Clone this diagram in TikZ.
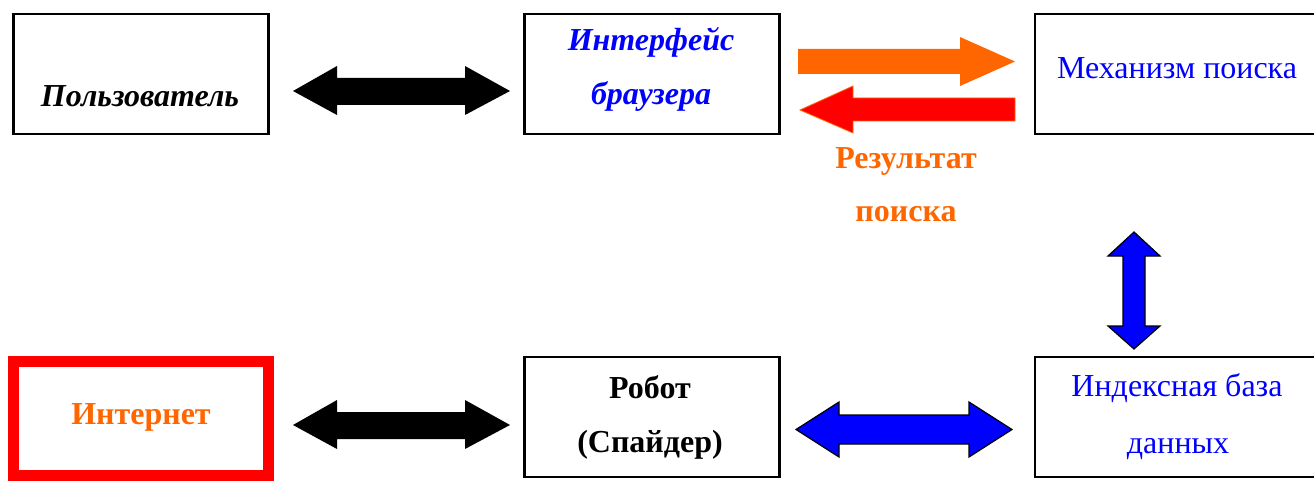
\documentclass[tikz,border=0pt]{standalone}
\usepackage{fontspec}
\setmainfont{Liberation Serif}
\definecolor{txtblue}{RGB}{0,0,255}
\definecolor{txtorange}{RGB}{255,102,0}
\definecolor{pure red}{RGB}{255,0,0}
\newcommand\labelsize{\fontsize{32}{32}\selectfont}
\begin{document}
\begin{tikzpicture}[x=1pt,y=-1pt,
  box/.style={draw=black,line width=2.8pt,fill=white,inner sep=0pt,minimum width=255pt,minimum height=120pt},
  widebox/.style={box,minimum width=285pt},
  netbox/.style={draw=pure red,line width=11pt,fill=white,inner sep=0pt,minimum width=255pt,minimum height=114pt},
  lbl/.style={anchor=base,inner sep=0pt,font=\labelsize},
  boldlbl/.style={anchor=base,inner sep=0pt,font=\labelsize\bfseries},
  bilbl/.style={anchor=base,inner sep=0pt,font=\labelsize\bfseries\itshape},
  blkarrow/.style={fill=black},
  bluearrow/.style={fill=txtblue,draw=black,line width=1.2pt,line join=miter},
]
\useasboundingbox (0,0) rectangle (1314,481);
\fill[white] (0,0) rectangle (1314,481);

% boxes
\node[box] (user) at (141,74) {};
\node[box] (browser) at (652,74) {};
\node[widebox] (engine) at (1177.5,74) {};
\node[netbox] (net) at (141,418.5) {};
\node[box] (robot) at (652,417) {};
\node[widebox] (index) at (1177.5,417) {};

% labels
\node[bilbl] (userT) at (140,107) {Пользователь};
\node[bilbl,text=txtblue] (browserT1) at (651,51) {Интерфейс};
\node[bilbl,text=txtblue] (browserT2) at (651,105) {браузера};
\node[lbl,text=txtblue] (engineT) at (1177,79) {Механизм поиска};
\node[boldlbl,text=txtorange] (netT) at (141,424) {Интернет};
\node[boldlbl] (robotT1) at (650,398) {Робот};
\node[boldlbl] (robotT2) at (650,452) {(Спайдер)};
\node[lbl,text=txtblue] (indexT1) at (1177,396) {Индексная база};
\node[lbl,text=txtblue] (indexT2) at (1178,453) {данных};
\node[boldlbl,text=txtorange] (resT1) at (906,169) {Результат};
\node[boldlbl,text=txtorange] (resT2) at (906,222) {поиска};

% user <-> browser
\fill[blkarrow] (293,91) -- (337,66) -- (337,78) -- (465,78) -- (465,66) -- (510,91)
  -- (465,115) -- (465,105) -- (337,105) -- (337,115) -- cycle;
% internet <-> robot
\fill[blkarrow] (293,425) -- (337,400) -- (337,412) -- (465,412) -- (465,400) -- (510,425)
  -- (465,449) -- (465,439) -- (337,439) -- (337,449) -- cycle;
% query: browser -> engine
\fill[txtorange] (798,49) -- (960,49) -- (960,37) -- (1015,61.5) -- (960,86) -- (960,74) -- (798,74) -- cycle;
% result: engine -> browser
\filldraw[fill=pure red,draw=txtorange,line width=0.8pt] (800,110) -- (853,86) -- (853,98) -- (1015,98)
  -- (1015,121) -- (853,121) -- (853,133) -- cycle;
% engine <-> index
\filldraw[bluearrow] (1134,232) -- (1160,256) -- (1145,256) -- (1145,326) -- (1160,326) -- (1134,349)
  -- (1108,326) -- (1123,326) -- (1123,256) -- (1108,256) -- cycle;
% robot <-> index
\filldraw[bluearrow] (796,429.5) -- (839,402) -- (839,415) -- (969,415) -- (969,402) -- (1012,429.5)
  -- (969,457) -- (969,444) -- (839,444) -- (839,457) -- cycle;
\end{tikzpicture}
\end{document}
